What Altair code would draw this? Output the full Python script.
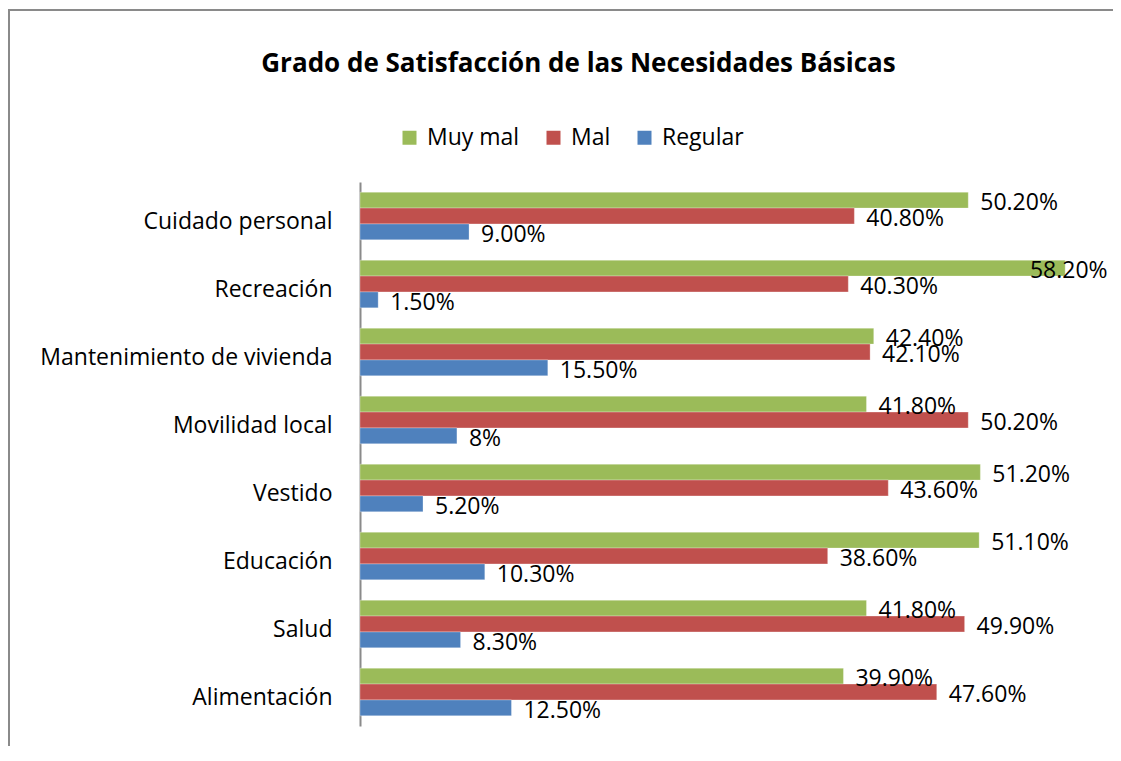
import altair as alt
import pandas as pd

categories = ["Cuidado personal", "Recreación", "Mantenimiento de vivienda",
              "Movilidad local", "Vestido", "Educación", "Salud", "Alimentación"]
series = ["Muy mal", "Mal", "Regular"]
muy_mal = [50.2, 58.2, 42.4, 41.8, 51.2, 51.1, 41.8, 39.9]
mal = [40.8, 40.3, 42.1, 50.2, 43.6, 38.6, 49.9, 47.6]
regular = [9.0, 1.5, 15.5, 8.0, 5.2, 10.3, 8.3, 12.5]
muy_mal_labels = ["50.20%", "58.20%", "42.40%", "41.80%", "51.20%", "51.10%", "41.80%", "39.90%"]
mal_labels = ["40.80%", "40.30%", "42.10%", "50.20%", "43.60%", "38.60%", "49.90%", "47.60%"]
regular_labels = ["9.00%", "1.50%", "15.50%", "8%", "5.20%", "10.30%", "8.30%", "12.50%"]
colors = ["#9BBB59", "#C0504D", "#4F81BD"]

rows = []
for s, vals, labs in zip(series, [muy_mal, mal, regular], [muy_mal_labels, mal_labels, regular_labels]):
    for c, v, l in zip(categories, vals, labs):
        rows.append({"Categoria": c, "Serie": s, "Valor": v, "Etiqueta": l})
df = pd.DataFrame(rows)

FONT = "Open Sans"

y_enc = alt.Y("Categoria:N", sort=categories,
              scale=alt.Scale(paddingInner=0.3, paddingOuter=0.15),
              axis=alt.Axis(title=None, labelFontSize=23, labelColor="#000000",
                            labelFont=FONT, ticks=False, labelPadding=28,
                            labelOffset=6, domainColor="#8a8a8a", domainWidth=2,
                            labelLimit=400))
yoff = alt.YOffset("Serie:N", sort=series)
x_scale = alt.Scale(domain=[0, 60], nice=False)

base = alt.Chart(df)

bars = base.mark_bar(stroke="#ffffff", strokeWidth=0.3).encode(
    y=y_enc,
    yOffset=yoff,
    x=alt.X("Valor:Q", scale=x_scale, axis=None),
    color=alt.Color("Serie:N", sort=series,
                    scale=alt.Scale(domain=series, range=colors),
                    legend=alt.Legend(title=None, orient="none", direction="horizontal",
                                      legendX=38, legendY=-56, symbolType="square",
                                      symbolSize=196, symbolStrokeWidth=0,
                                      labelFontSize=23, labelFont=FONT,
                                      labelColor="#000000", labelOffset=6,
                                      columnPadding=22)),
)

labels = base.transform_calculate(
    pos="min(datum.Valor, 54.3)"
).mark_text(align="left", baseline="middle", dx=12, dy=3, fontSize=23,
            font=FONT, color="#000000").encode(
    y=alt.Y("Categoria:N", sort=categories),
    yOffset=yoff,
    x=alt.X("pos:Q", scale=x_scale),
    text="Etiqueta:N",
)

frame_top = alt.Chart(df).mark_rule(color="#8a8a8a", strokeWidth=2).encode(
    x=alt.value(-352), x2=alt.value(770), y=alt.value(-172)
)
frame_left = alt.Chart(df).mark_rule(color="#8a8a8a", strokeWidth=2).encode(
    x=alt.value(-351), y=alt.value(-172), y2=alt.value(580)
)

chart = alt.layer(frame_top, frame_left, bars, labels).properties(
    width=727, height=544,
    title=alt.TitleParams("Grado de Satisfacción de las Necesidades Básicas",
                          fontSize=26, font=FONT, fontWeight="bold",
                          color="#000000", anchor="middle", dx=-145, offset=-68),
    padding={"left": 352, "top": 174, "right": 26, "bottom": 20},
    autosize=alt.AutoSizeParams(type="none"),
).configure_view(stroke=None).configure_axis(grid=False)

chart.save("out.html", embed_options={"renderer": "svg", "actions": False})
